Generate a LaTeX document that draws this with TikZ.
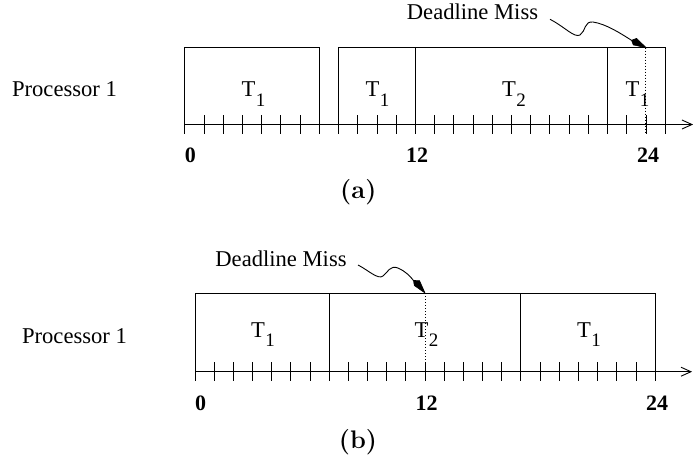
\documentclass[tikz,border=0pt]{standalone}
\usepackage{fontspec}
\setmainfont{Liberation Serif}
\newfontfamily\lmfont{Latin Modern Roman}
\usetikzlibrary{arrows.meta}
\tikzset{
 lbl/.style={font=\fontsize{22.6}{27}\selectfont, inner sep=0pt, anchor=base},
 num/.style={font=\fontsize{22}{26}\selectfont\bfseries, inner sep=0pt},
 captxt/.style={font=\lmfont\fontsize{25.4}{30}\selectfont\bfseries, inner sep=0pt, anchor=base},
 boxline/.style={line width=0.9pt},
 tickline/.style={line width=0.8pt},
 axisline/.style={line width=0.9pt, -{Straight Barb[length=10pt,width=9pt]}},
 dl/.style={dotted, line width=1pt},
 missline/.style={line width=0.9pt},
 misstip/.style={fill=black, draw=black, line width=0.6pt, line join=miter},
}
\newcommand{\Tsub}[1]{T\kern0.3pt\raisebox{-9.3pt}{\fontsize{19}{22}\selectfont #1}}
\begin{document}
\begin{tikzpicture}[x=1pt,y=-1pt]
\path[use as bounding box] (0,0) rectangle (693,459);
% ---------------- (a)
\begin{scope}[shift={(184.7,124.5)}, x=19.22pt]
 \draw[boxline] (0,0) rectangle (7,-76.8);
 \draw[boxline] (8,0) rectangle (25,-76.8);
 \draw[boxline] (12,0) -- (12,-76.8) (22,0) -- (22,-76.8);
 \foreach \i in {0,...,25} \draw[tickline] (\i,-9.5) -- (\i,9);
 \draw[dl] (24,-76.8) -- (24,9);
 \coordinate (a0) at (0,0);
 \coordinate (aend) at (26.45,0);
 \draw[axisline] (a0) -- (aend);
\end{scope}
\node[lbl] (procA) at (64.5,96) {Processor 1};
\node[lbl] (a1) at (253.5,96.7) {\Tsub{1}};
\node[lbl] (a2) at (377.5,96.7) {\Tsub{1}};
\node[lbl] (a3) at (514,96.7) {\Tsub{2}};
\node[lbl] (a4) at (637.5,96.7) {\Tsub{1}};
\node[num, anchor=base west] (an0) at (184.7,162.7) {0};
\node[num, anchor=base] (an12) at (417,162.7) {12};
\node[num, anchor=base] (an24) at (648,162.7) {24};
\node[captxt] (capA) at (358.3,198.3) {(a)};
\node[lbl] (missA) at (472.5,19.3) {Deadline Miss};
\coordinate (astart) at (550,19.3);
\coordinate (amiss) at (646.1,47.7);
\coordinate (aback) at (631.5,40.3);
\coordinate (aw1) at (633.3,44.9);
\coordinate (aw2) at (636.6,38.4);
\draw[missline] (astart) .. controls (565,27) and (574,38) .. (580,35)
  .. controls (586,31) and (584,21) .. (593,22)
  .. controls (606,24) and (620,33) .. (aback);
\filldraw[misstip] (amiss) -- (aw1) -- (aback) -- (aw2) -- cycle;
% ---------------- (b)
\begin{scope}[shift={(195,371.7)}, x=19.17pt]
 \draw[boxline] (0,0) rectangle (24,-78.7);
 \draw[boxline] (7,0) -- (7,-78.7) (17,0) -- (17,-78.7);
 \foreach \i in {0,...,24} \draw[tickline] (\i,-9.5) -- (\i,9);
 \draw[dl] (12,-78.7) -- (12,9);
 \coordinate (b0) at (0,0);
 \coordinate (bend) at (25.93,0);
 \draw[axisline] (b0) -- (bend);
\end{scope}
\node[lbl] (procB) at (74.5,343.3) {Processor 1};
\node[lbl] (b1) at (263,337) {\Tsub{1}};
\node[lbl] (b2) at (426.5,337) {\Tsub{2}};
\node[lbl] (b3) at (589,337) {\Tsub{1}};
\node[num, anchor=base west] (bn0) at (195,410) {0};
\node[num, anchor=base] (bn12) at (426.7,410) {12};
\node[num, anchor=base] (bn24) at (657,410) {24};
\node[captxt] (capB) at (358,448.5) {(b)};
\node[lbl] (missB) at (281,266.7) {Deadline Miss};
\coordinate (bstart) at (358,265);
\coordinate (bmiss) at (425,293);
\coordinate (bback) at (413.5,280.5);
\coordinate (bw1) at (414.3,285.5);
\coordinate (bw2) at (419.5,280.6);
\draw[missline] (bstart) .. controls (368,270) and (378,280) .. (383,276)
  .. controls (388,272) and (390,265) .. (398,268)
  .. controls (405,271) and (410,276) .. (bback);
\filldraw[misstip] (bmiss) -- (bw1) -- (bback) -- (bw2) -- cycle;
\end{tikzpicture}
\end{document}
